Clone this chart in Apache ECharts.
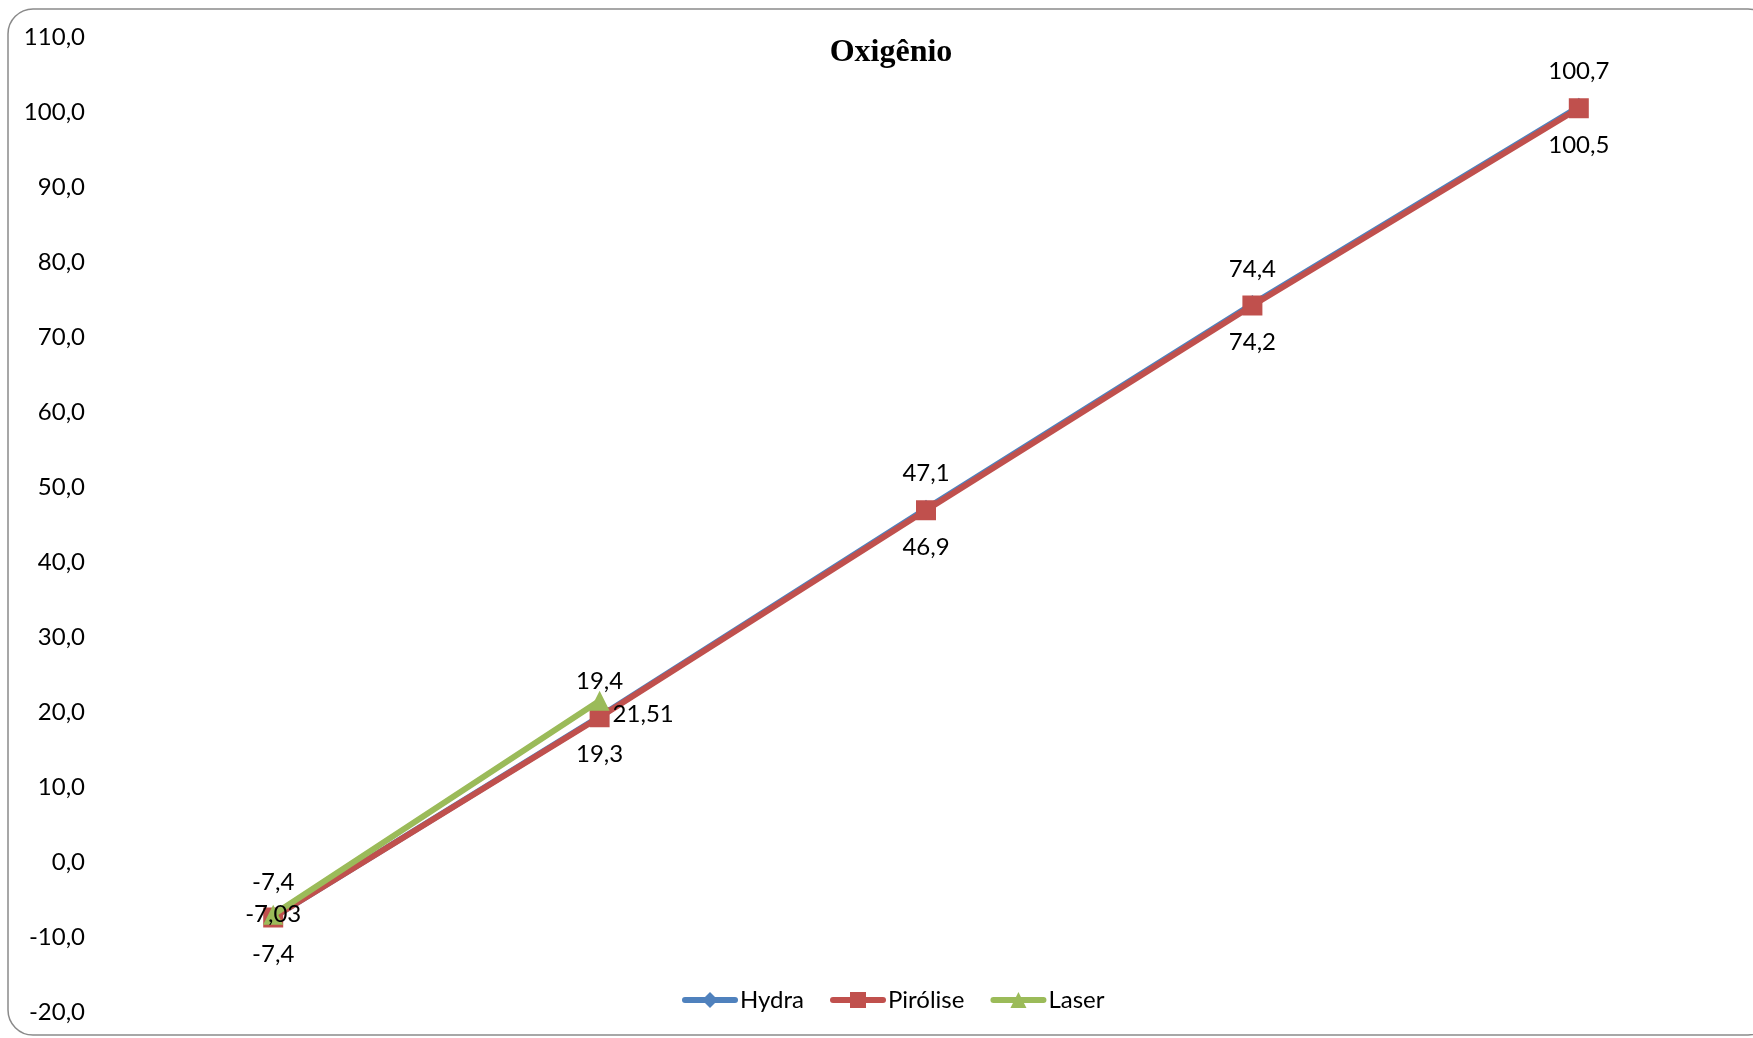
<!DOCTYPE html>
<html><head><meta charset="utf-8">
<script src="https://cdn.jsdelivr.net/npm/echarts@6/dist/echarts.min.js"></script>
<style>html,body{margin:0;padding:0;background:#fff}#c{width:1753px;height:1038px}</style>
</head><body><div id="c"></div>
<script>
var categories = ['1', '2', '3', '4', '5'];
var hydra = [-7.4, 19.4, 47.1, 74.4, 100.7];
var pirolise = [-7.4, 19.3, 46.9, 74.2, 100.5];
var laser = [-7.03, 21.51, null, null, null];
var yTicks = { min: -20, max: 110, interval: 10 };

function fmt(v) { return String(v).replace('.', ','); }
var FONT = 'Lato';
var FS = 24;
var chart = echarts.init(document.getElementById('c'));
chart.setOption({
  animation: false,
  backgroundColor: '#fff',
  title: {
    text: 'Oxigênio', left: 886, top: 32, textAlign: 'center',
    textStyle: { fontFamily: 'Liberation Serif', fontWeight: 'bold', fontSize: 32, color: '#000' }
  },
  graphic: [{
    type: 'rect', silent: true, z: -1,
    shape: { x: 8, y: 9, width: 1765, height: 1026, r: 25 },
    style: { fill: 'none', stroke: '#8a8a8a', lineWidth: 1.5 }
  }],
  legend: {
    left: 677, top: 983, itemWidth: 50, itemHeight: 20, itemGap: 26,
    lineStyle: { width: 6, cap: 'round' },
    textStyle: { fontFamily: FONT, fontSize: FS, color: '#000' },
    data: ['Hydra', 'Pirólise', 'Laser']
  },
  grid: { left: 110, right: 11, top: 37, bottom: 26 },
  xAxis: {
    type: 'category', data: categories, boundaryGap: true,
    axisLine: { show: false }, axisTick: { show: false }, axisLabel: { show: false }, splitLine: { show: false }
  },
  yAxis: {
    type: 'value', min: yTicks.min, max: yTicks.max, interval: yTicks.interval,
    axisLine: { show: false }, axisTick: { show: false }, splitLine: { show: false },
    axisLabel: { margin: 25, fontFamily: FONT, fontSize: FS, color: '#000',
      formatter: function (v) { return v.toFixed(1).replace('.', ','); } }
  },
  series: [
    { name: 'Hydra', type: 'line', data: hydra, symbol: 'diamond', symbolSize: 18,
      itemStyle: { color: '#4F81BD' }, lineStyle: { width: 6, color: '#4F81BD', cap: 'round' }, z: 2,
      label: { show: true, position: 'top', distance: 14, fontFamily: FONT, fontSize: FS, color: '#000',
        formatter: function (p) { return fmt(p.value); } } },
    { name: 'Pirólise', type: 'line', data: pirolise, symbol: 'rect', symbolSize: 20,
      itemStyle: { color: '#C0504D' }, lineStyle: { width: 6, color: '#C0504D', cap: 'round' }, z: 3,
      label: { show: true, position: 'bottom', distance: 15, fontFamily: FONT, fontSize: FS, color: '#000',
        formatter: function (p) { return fmt(p.value); } } },
    { name: 'Laser', type: 'line', data: laser.map(function (v, i) {
        return i === 0 ? { value: v, label: { position: 'inside' } } : { value: v, label: { position: 'right', offset: [0, 14] } };
      }), symbol: 'triangle', symbolSize: 20, connectNulls: false,
      itemStyle: { color: '#9BBB59' }, lineStyle: { width: 6, color: '#9BBB59', cap: 'round' }, z: 4,
      label: { show: true, position: 'right', distance: 3, fontFamily: FONT, fontSize: FS, color: '#000',
        formatter: function (p) { return fmt(p.value); } } }
  ]
});
</script></body></html>
